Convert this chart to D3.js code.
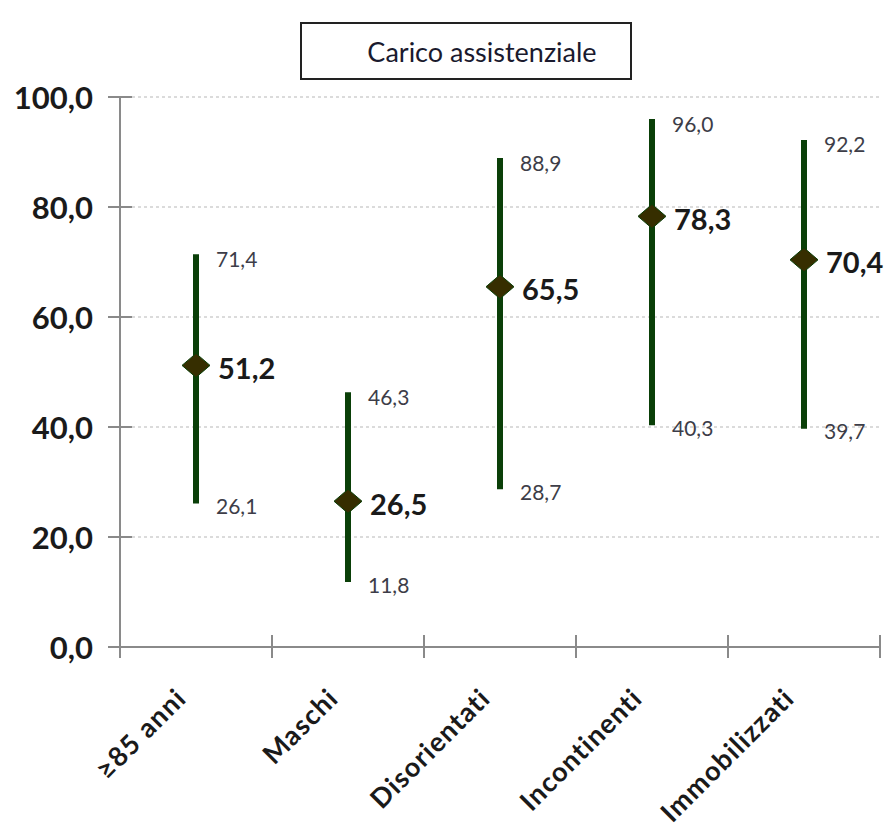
<!DOCTYPE html>
<html>
<head>
<meta charset="utf-8">
<script src="https://cdn.jsdelivr.net/npm/d3@7"></script>
<style>
  html, body { margin: 0; padding: 0; background: #ffffff; }
  svg { display: block; font-family: Lato, "Open Sans", sans-serif; }
</style>
</head>
<body>
<svg id="chart" width="888" height="839"></svg>
<script>
const title = "Carico assistenziale";
const categories = ["≥85 anni", "Maschi", "Disorientati", "Incontinenti", "Immobilizzati"];
const values = [51.2, 26.5, 65.5, 78.3, 70.4];
const lower = [26.1, 11.8, 28.7, 40.3, 39.7];
const upper = [71.4, 46.3, 88.9, 96.0, 92.2];
const yTicks = [0, 20, 40, 60, 80, 100];

(function () {
const fmt = v => v.toFixed(1).replace(".", ",");
const data = categories.map((c, i) => ({ c, v: values[i], lo: lower[i], hi: upper[i] }));

const svg = d3.select("#chart");
const mLeft = 120, mRight = 880, mTop = 97, mBottom = 647;

const y = d3.scaleLinear().domain([0, 100]).range([mBottom, mTop]);
const x = d3.scaleBand().domain(categories).range([mLeft, mRight]).padding(0);

// Title box
const tg = svg.append("g");
tg.append("rect").attr("x", 301).attr("y", 23).attr("width", 330).attr("height", 56)
  .attr("fill", "#fff").attr("stroke", "#222").attr("stroke-width", 2);
tg.append("text").attr("x", 482).attr("y", 51).attr("text-anchor", "middle")
  .attr("dominant-baseline", "central").attr("font-size", 27).attr("fill", "#1a1a2e")
  .text(title);

// Gridlines
svg.append("g").selectAll("line").data(yTicks.filter(t => t > 0)).join("line")
  .attr("x1", mLeft + 12).attr("x2", mRight).attr("y1", d => y(d)).attr("y2", d => y(d))
  .attr("stroke", "#b8b8b8").attr("stroke-width", 1.2).attr("stroke-dasharray", "3,3");

// Y axis
const axisColor = "#8a8a8a";
svg.append("line").attr("x1", mLeft).attr("x2", mLeft).attr("y1", y(100)).attr("y2", y(0) + 11)
  .attr("stroke", axisColor).attr("stroke-width", 2);
svg.append("g").selectAll("line").data(yTicks).join("line")
  .attr("x1", mLeft - 12).attr("x2", mLeft + 12).attr("y1", d => y(d)).attr("y2", d => y(d))
  .attr("stroke", axisColor).attr("stroke-width", 2);
svg.append("g").selectAll("text").data(yTicks).join("text")
  .attr("x", 93).attr("y", d => y(d)).attr("text-anchor", "end").attr("dominant-baseline", "central")
  .attr("font-size", 31).attr("font-weight", "bold").attr("fill", "#1a1a1a")
  .text(d => fmt(d));

// X axis
svg.append("line").attr("x1", mLeft).attr("x2", mRight).attr("y1", y(0)).attr("y2", y(0))
  .attr("stroke", axisColor).attr("stroke-width", 2);
const bounds = categories.map(c => x(c)).concat([x(categories[categories.length - 1]) + x.bandwidth()]);
svg.append("g").selectAll("line").data(bounds.slice(1)).join("line")
  .attr("x1", d => d).attr("x2", d => d).attr("y1", y(0) - 12).attr("y2", y(0) + 11)
  .attr("stroke", axisColor).attr("stroke-width", 2);
svg.append("g").selectAll("text").data(categories).join("text")
  .attr("text-anchor", "end")
  .attr("transform", d => `translate(${x(d) + x.bandwidth() / 2 - 8},${y(0) + 53}) rotate(-45)`)
  .attr("font-size", 27).attr("font-weight", "bold").attr("letter-spacing", 1.2).attr("fill", "#1a1a1a")
  .text(d => d);

// Error bars
const barColor = "#0a3f08";
const g = svg.append("g");
const cx = d => x(d.c) + x.bandwidth() / 2;
g.selectAll("line.err").data(data).join("line").attr("class", "err")
  .attr("x1", cx).attr("x2", cx).attr("y1", d => y(d.hi)).attr("y2", d => y(d.lo))
  .attr("stroke", barColor).attr("stroke-width", 6);

// Diamonds
const dw = 14, dh = 12;
g.selectAll("path.dia").data(data).join("path").attr("class", "dia")
  .attr("transform", d => `translate(${cx(d)},${y(d.v)})`)
  .attr("d", `M0,${-dh}L${dw},0L0,${dh}L${-dw},0Z`)
  .attr("fill", "#362e00").attr("stroke", barColor).attr("stroke-width", 1);

// Value labels
g.selectAll("text.val").data(data).join("text").attr("class", "val")
  .attr("x", d => cx(d) + 22).attr("y", d => y(d.v) + 2)
  .attr("dominant-baseline", "central").attr("font-size", 29).attr("font-weight", "bold")
  .attr("fill", "#1a1a1a").text(d => fmt(d.v));

// Upper / lower labels
const smallColor = "#3d3d48";
g.selectAll("text.hi").data(data).join("text").attr("class", "hi")
  .attr("x", d => cx(d) + 20).attr("y", d => y(d.hi) + 4)
  .attr("dominant-baseline", "central").attr("font-size", 21).attr("fill", smallColor)
  .text(d => fmt(d.hi));
g.selectAll("text.lo").data(data).join("text").attr("class", "lo")
  .attr("x", d => cx(d) + 20).attr("y", d => y(d.lo) + 2)
  .attr("dominant-baseline", "central").attr("font-size", 21).attr("fill", smallColor)
  .text(d => fmt(d.lo));
})();
</script>
</body>
</html>
